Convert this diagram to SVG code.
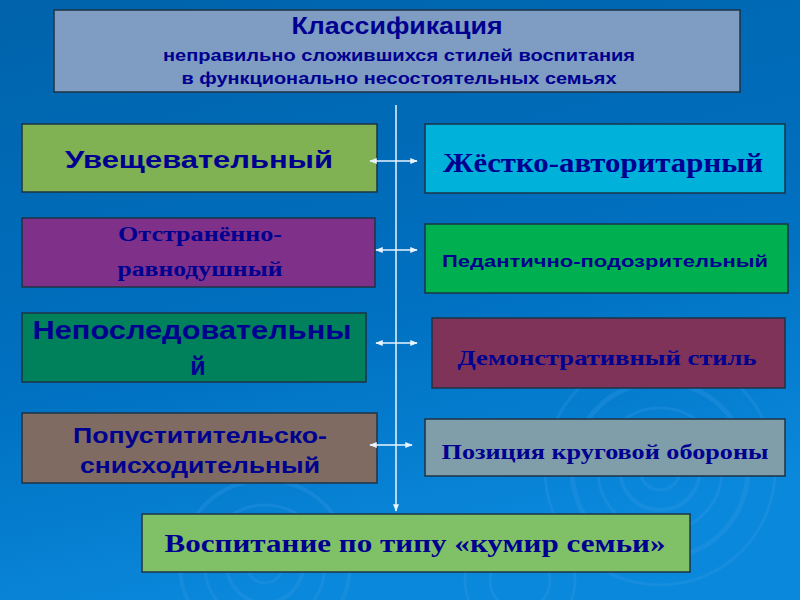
<svg xmlns="http://www.w3.org/2000/svg" width="800" height="600" viewBox="0 0 800 600">
<defs>
<linearGradient id="bg" x1="0" y1="0" x2="0.3" y2="1">
<stop offset="0" stop-color="#0063ab"/>
<stop offset="0.6" stop-color="#0070c0"/>
<stop offset="1" stop-color="#0a88dc"/>
</linearGradient>
<marker id="ah" viewBox="0 0 10 10" refX="9" refY="5" markerWidth="5" markerHeight="5" orient="auto-start-reverse">
<path d="M0,1 L10,5 L0,9 z" fill="#e8f4ff"/>
</marker>
</defs>
<style>
.box{stroke:#1c3346;stroke-width:1.5}
.sans{font-family:"Liberation Sans",Arial,sans-serif;font-weight:bold;fill:#000090}
.serif{font-family:"Liberation Serif","Times New Roman",serif;font-weight:bold;fill:#000090}
.con{stroke:#e8f4ff;stroke-width:1.5;fill:none}
.rip{fill:none;stroke:#3a9ae6;stroke-opacity:0.28}
</style>
<rect width="800" height="600" fill="url(#bg)"/>
<g id="ripples">
<circle class="rip" cx="660" cy="470" r="20" stroke-width="3"/>
<circle class="rip" cx="660" cy="470" r="40" stroke-width="4"/>
<circle class="rip" cx="660" cy="470" r="62" stroke-width="3"/>
<circle class="rip" cx="660" cy="470" r="88" stroke-width="5"/>
<circle class="rip" cx="660" cy="470" r="115" stroke-width="3"/>
<circle class="rip" cx="265" cy="565" r="18" stroke-width="3"/>
<circle class="rip" cx="265" cy="565" r="38" stroke-width="4"/>
<circle class="rip" cx="265" cy="565" r="60" stroke-width="3"/>
<circle class="rip" cx="265" cy="565" r="85" stroke-width="4"/>
<circle class="rip" cx="520" cy="580" r="30" stroke-width="3"/>
<circle class="rip" cx="520" cy="580" r="55" stroke-width="3"/>
</g>
<g id="title">
<rect class="box" x="54" y="10" width="686" height="82" fill="#7f9cc2"/>
<text class="sans" x="397" y="34" font-size="23" text-anchor="middle" textLength="211" lengthAdjust="spacingAndGlyphs">Классификация</text>
<text class="sans" x="399" y="61" font-size="17" text-anchor="middle" textLength="472" lengthAdjust="spacingAndGlyphs">неправильно сложившихся стилей воспитания</text>
<text class="sans" x="399" y="84" font-size="17" text-anchor="middle" textLength="435" lengthAdjust="spacingAndGlyphs">в функционально несостоятельных семьях</text>
</g>
<g id="n1">
<rect class="box" x="22" y="124" width="355" height="68" fill="#80b152"/>
<text class="sans" x="199" y="168" font-size="24" text-anchor="middle" textLength="268" lengthAdjust="spacingAndGlyphs">Увещевательный</text>
</g>
<g id="n2">
<rect class="box" x="22" y="218" width="353" height="69" fill="#7f3089"/>
<text class="serif" x="200" y="241" font-size="20" text-anchor="middle" textLength="164" lengthAdjust="spacingAndGlyphs">Отстранённо-</text>
<text class="serif" x="200" y="276" font-size="20" text-anchor="middle" textLength="165" lengthAdjust="spacingAndGlyphs">равнодушный</text>
</g>
<g id="n3">
<rect class="box" x="22" y="313" width="344" height="69" fill="#00805b"/>
<text class="sans" x="192" y="339" font-size="25" text-anchor="middle" textLength="319" lengthAdjust="spacingAndGlyphs">Непоследовательны</text>
<text class="sans" x="198" y="375" font-size="25" text-anchor="middle">й</text>
</g>
<g id="n4">
<rect class="box" x="22" y="413" width="355" height="70" fill="#7f6b61"/>
<text class="sans" x="200" y="443" font-size="22" text-anchor="middle" textLength="254" lengthAdjust="spacingAndGlyphs">Попуститительско-</text>
<text class="sans" x="200" y="473" font-size="22" text-anchor="middle" textLength="240" lengthAdjust="spacingAndGlyphs">снисходительный</text>
</g>
<g id="n5">
<rect class="box" x="425" y="124" width="360" height="69" fill="#00b1d9"/>
<text class="serif" x="603" y="172" font-size="27" text-anchor="middle" textLength="320" lengthAdjust="spacingAndGlyphs">Жёстко-авторитарный</text>
</g>
<g id="n6">
<rect class="box" x="425" y="224" width="363" height="69" fill="#00b050"/>
<text class="sans" x="605" y="267" font-size="17" text-anchor="middle" textLength="326" lengthAdjust="spacingAndGlyphs">Педантично-подозрительный</text>
</g>
<g id="n7">
<rect class="box" x="432" y="318" width="353" height="70" fill="#803358"/>
<text class="serif" x="607" y="365" font-size="21" text-anchor="middle" textLength="299" lengthAdjust="spacingAndGlyphs">Демонстративный стиль</text>
</g>
<g id="n8">
<rect class="box" x="425" y="419" width="360" height="57" fill="#7f9ea9"/>
<text class="serif" x="605" y="459" font-size="22" text-anchor="middle" textLength="327" lengthAdjust="spacingAndGlyphs">Позиция круговой обороны</text>
</g>
<g id="n9">
<rect class="box" x="142" y="514" width="548" height="58" fill="#80c168"/>
<text class="serif" x="415" y="552" font-size="25" text-anchor="middle" textLength="501" lengthAdjust="spacingAndGlyphs">Воспитание по типу «кумир семьи»</text>
</g>
<g id="connectors">
<line class="con" x1="396" y1="105" x2="396" y2="511" marker-end="url(#ah)"/>
<line class="con" x1="370" y1="161" x2="417" y2="161" marker-start="url(#ah)" marker-end="url(#ah)"/>
<line class="con" x1="376" y1="250" x2="417" y2="250" marker-start="url(#ah)" marker-end="url(#ah)"/>
<line class="con" x1="376" y1="343" x2="417" y2="343" marker-start="url(#ah)" marker-end="url(#ah)"/>
<line class="con" x1="370" y1="445" x2="412" y2="445" marker-start="url(#ah)" marker-end="url(#ah)"/>
</g>
</svg>
